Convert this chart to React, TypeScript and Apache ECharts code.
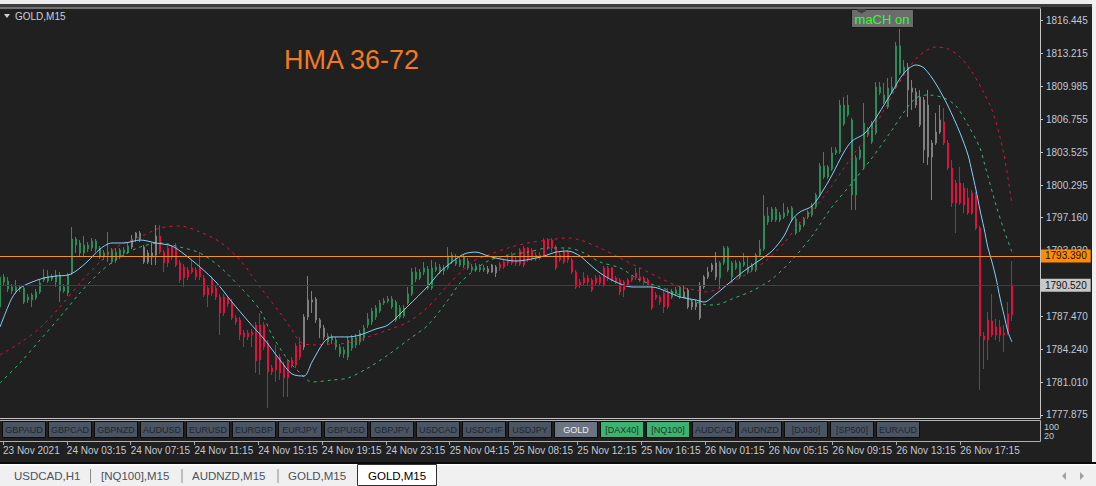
import React, { useEffect, useRef } from "react";
import * as echarts from "echarts";

// ---------- data ----------
const timeLabels = [
  "23 Nov 2021", "24 Nov 03:15", "24 Nov 07:15", "24 Nov 11:15", "24 Nov 15:15",
  "24 Nov 19:15", "24 Nov 23:15", "25 Nov 04:15", "25 Nov 08:15", "25 Nov 12:15",
  "25 Nov 16:15", "26 Nov 01:15", "26 Nov 05:15", "26 Nov 09:15", "26 Nov 13:15",
  "26 Nov 17:15",
];
const labelEvery = 16;
const slotCount = 261;

const priceTicks = [
  1777.875, 1781.01, 1784.24, 1787.47, 1790.7, 1793.93, 1797.16, 1800.295,
  1803.525, 1806.755, 1809.985, 1813.215, 1816.445,
];
const priceMin = 1777.56;
const priceMax = 1817.52;

const bidPrice = 1793.39;
const levelPrice = 1790.52;

// [open, close, low, high]
const ohlc: number[][] = [
  [1788.41, 1791.34, 1788.21, 1791.53], [1790.84, 1791.34, 1790.45, 1791.63], [1790.17, 1790.94, 1789.87, 1791.34],
  [1789.97, 1790.36, 1789.68, 1790.65], [1789.97, 1790.36, 1789.68, 1791.04], [1790.17, 1790.36, 1789.87, 1790.55],
  [1788.89, 1790.26, 1788.7, 1790.45], [1789.09, 1789.38, 1788.8, 1789.68], [1789.09, 1789.58, 1788.41, 1789.78],
  [1789.29, 1789.87, 1789.09, 1790.17], [1789.87, 1790.75, 1789.68, 1791.04], [1791.04, 1791.34, 1790.84, 1792.12],
  [1790.94, 1791.43, 1790.75, 1792.02], [1791.14, 1791.34, 1790.94, 1791.63], [1790.84, 1791.53, 1790.36, 1792.02],
  [1789.97, 1791.53, 1788.89, 1791.82], [1789.97, 1790.36, 1789.78, 1790.65], [1789.78, 1791.53, 1789.48, 1791.73],
  [1791.73, 1795.05, 1791.53, 1796.22], [1794.46, 1795.05, 1793.68, 1795.25], [1793.68, 1794.66, 1793.39, 1794.95],
  [1793.68, 1794.46, 1793.29, 1795.34], [1794.07, 1794.46, 1793.77, 1794.75], [1794.17, 1794.85, 1793.87, 1795.15],
  [1794.07, 1794.85, 1793.77, 1795.05], [1793.29, 1794.17, 1793.1, 1794.36], [1793.29, 1793.68, 1793.0, 1793.97],
  [1793.48, 1793.77, 1792.8, 1795.73], [1792.8, 1793.97, 1792.61, 1794.17], [1793.0, 1793.77, 1792.71, 1794.17],
  [1793.29, 1793.97, 1793.1, 1794.17], [1793.68, 1793.97, 1793.39, 1794.26], [1793.77, 1794.36, 1793.58, 1794.66],
  [1795.05, 1794.26, 1794.07, 1795.44], [1795.63, 1795.15, 1794.75, 1795.73], [1795.63, 1795.05, 1794.75, 1795.83],
  [1794.26, 1792.8, 1792.61, 1794.46], [1793.68, 1792.8, 1792.61, 1793.97], [1793.68, 1793.29, 1792.51, 1794.66],
  [1795.34, 1793.48, 1792.51, 1796.42], [1795.34, 1793.77, 1793.58, 1796.42], [1793.77, 1792.71, 1791.82, 1793.97],
  [1794.17, 1792.71, 1792.31, 1794.36], [1794.26, 1793.29, 1793.0, 1794.46], [1794.26, 1792.51, 1792.31, 1794.66],
  [1792.71, 1791.04, 1790.75, 1793.0], [1792.31, 1791.24, 1790.36, 1792.61], [1792.02, 1791.34, 1791.04, 1792.31],
  [1792.22, 1791.82, 1791.63, 1793.0], [1792.02, 1791.34, 1791.04, 1792.31], [1792.22, 1791.34, 1791.04, 1793.77],
  [1791.24, 1789.58, 1789.38, 1791.53], [1790.26, 1789.58, 1788.41, 1790.55], [1791.24, 1789.78, 1789.48, 1791.43],
  [1790.26, 1789.38, 1789.09, 1790.55], [1789.38, 1787.82, 1785.67, 1789.68], [1789.38, 1787.82, 1787.53, 1789.68],
  [1789.29, 1788.7, 1788.41, 1789.48], [1788.89, 1787.33, 1787.14, 1789.19], [1787.33, 1786.94, 1786.65, 1787.63],
  [1787.14, 1785.67, 1785.18, 1787.43], [1785.87, 1785.48, 1784.5, 1786.16], [1785.87, 1785.48, 1785.18, 1786.16],
  [1785.96, 1785.67, 1784.5, 1786.26], [1786.65, 1783.13, 1781.96, 1786.94], [1786.65, 1783.23, 1781.76, 1787.82],
  [1786.65, 1784.5, 1784.21, 1786.94], [1784.89, 1782.06, 1778.54, 1785.18], [1782.45, 1782.06, 1781.76, 1782.74],
  [1783.52, 1782.25, 1781.08, 1784.7], [1783.52, 1781.96, 1781.27, 1783.82], [1782.74, 1781.47, 1779.62, 1783.03],
  [1783.03, 1781.47, 1779.62, 1783.33], [1783.23, 1782.74, 1782.45, 1783.52], [1784.6, 1782.74, 1782.45, 1784.89],
  [1784.7, 1783.52, 1783.23, 1785.48], [1787.43, 1784.5, 1784.21, 1787.72], [1789.09, 1787.43, 1787.14, 1791.43],
  [1789.09, 1788.89, 1787.82, 1789.97], [1789.19, 1787.14, 1786.84, 1789.38], [1787.14, 1786.36, 1785.38, 1787.33],
  [1786.36, 1785.48, 1785.18, 1786.65], [1784.99, 1785.57, 1784.7, 1785.87], [1785.18, 1785.48, 1784.79, 1785.77],
  [1784.5, 1785.18, 1784.21, 1785.48], [1783.82, 1784.5, 1783.52, 1784.79], [1783.82, 1784.21, 1783.42, 1784.5],
  [1783.52, 1785.18, 1783.23, 1785.48], [1784.4, 1785.38, 1784.11, 1785.67], [1784.7, 1785.38, 1784.4, 1785.77],
  [1784.99, 1785.87, 1784.7, 1786.16], [1785.38, 1786.36, 1785.08, 1786.65], [1786.65, 1787.24, 1786.36, 1787.82],
  [1786.94, 1788.02, 1786.65, 1788.31], [1787.43, 1788.31, 1787.14, 1788.6], [1788.02, 1788.8, 1787.82, 1789.09],
  [1788.8, 1788.99, 1788.6, 1789.29], [1788.99, 1789.19, 1788.8, 1789.48], [1788.41, 1789.19, 1788.21, 1789.48],
  [1787.14, 1788.89, 1786.94, 1789.09], [1787.43, 1788.31, 1787.24, 1788.6], [1787.53, 1788.31, 1787.33, 1788.6],
  [1788.8, 1789.68, 1788.6, 1790.36], [1789.68, 1791.82, 1789.48, 1792.22], [1791.14, 1791.82, 1790.84, 1792.31],
  [1791.24, 1791.82, 1791.04, 1792.12], [1791.82, 1792.22, 1791.53, 1792.8], [1790.26, 1792.12, 1790.07, 1792.41],
  [1790.26, 1792.22, 1790.07, 1793.0], [1792.02, 1792.31, 1791.82, 1792.8], [1791.82, 1792.31, 1791.63, 1792.61],
  [1791.92, 1792.22, 1791.53, 1792.51], [1792.22, 1793.39, 1792.02, 1794.26], [1792.8, 1793.48, 1792.61, 1793.77],
  [1792.61, 1793.0, 1792.41, 1793.58], [1792.51, 1793.0, 1792.31, 1793.29], [1792.51, 1793.29, 1792.22, 1793.48],
  [1792.22, 1792.9, 1792.02, 1793.19], [1792.02, 1792.31, 1791.82, 1792.61], [1792.02, 1792.41, 1791.82, 1792.71],
  [1792.02, 1792.31, 1791.82, 1792.61], [1792.02, 1792.22, 1791.82, 1792.51], [1792.12, 1791.82, 1791.63, 1792.41],
  [1792.51, 1791.82, 1791.73, 1792.61], [1792.31, 1791.73, 1791.34, 1792.51], [1792.61, 1792.22, 1791.92, 1792.8],
  [1792.8, 1792.31, 1792.12, 1793.1], [1793.0, 1792.71, 1792.41, 1793.29], [1793.48, 1792.71, 1792.51, 1793.77],
  [1793.0, 1792.71, 1792.41, 1793.29], [1793.97, 1792.61, 1792.41, 1794.17], [1794.17, 1792.51, 1792.31, 1794.36],
  [1794.17, 1793.0, 1792.8, 1794.26], [1793.97, 1793.19, 1792.9, 1794.17], [1793.48, 1793.19, 1792.9, 1793.77],
  [1793.48, 1793.19, 1793.0, 1793.77], [1794.95, 1793.48, 1793.29, 1795.15], [1794.95, 1794.26, 1793.97, 1795.15],
  [1794.95, 1794.17, 1793.77, 1795.15], [1794.26, 1792.22, 1792.02, 1794.46], [1793.48, 1793.0, 1792.8, 1793.77],
  [1793.77, 1792.8, 1792.61, 1794.07], [1793.77, 1793.0, 1792.71, 1793.97], [1793.0, 1791.82, 1791.63, 1793.19],
  [1791.82, 1790.36, 1790.17, 1792.02], [1790.84, 1790.55, 1790.26, 1791.14], [1791.24, 1790.75, 1790.55, 1791.82],
  [1791.24, 1790.84, 1790.55, 1791.53], [1791.04, 1790.07, 1789.87, 1791.24], [1791.24, 1790.75, 1790.55, 1791.53],
  [1791.34, 1790.75, 1790.45, 1791.53], [1792.22, 1790.55, 1790.36, 1792.41], [1792.22, 1791.24, 1790.94, 1792.41],
  [1792.22, 1791.04, 1790.84, 1792.31], [1791.24, 1790.84, 1790.65, 1791.43], [1791.04, 1789.87, 1789.58, 1791.24],
  [1790.84, 1790.07, 1789.38, 1791.04], [1791.04, 1790.55, 1790.36, 1791.24], [1791.34, 1791.04, 1790.84, 1791.53],
  [1791.73, 1791.24, 1791.04, 1792.22], [1791.34, 1791.04, 1790.84, 1792.22], [1791.24, 1790.84, 1790.55, 1791.43],
  [1791.04, 1790.55, 1790.36, 1791.24], [1790.36, 1788.31, 1788.11, 1790.55], [1789.58, 1789.29, 1789.09, 1789.87],
  [1789.38, 1788.89, 1788.6, 1789.58], [1789.78, 1788.41, 1787.82, 1790.07], [1789.87, 1788.41, 1788.21, 1790.26],
  [1789.38, 1789.87, 1789.19, 1790.17], [1789.68, 1790.07, 1789.48, 1790.36], [1789.38, 1790.36, 1789.19, 1790.55],
  [1789.87, 1789.38, 1789.29, 1790.55], [1790.07, 1788.41, 1788.21, 1790.26], [1788.89, 1788.41, 1788.11, 1789.09],
  [1788.8, 1788.41, 1788.11, 1789.09], [1790.55, 1787.33, 1787.14, 1790.84], [1791.34, 1790.36, 1790.17, 1791.53],
  [1791.82, 1791.34, 1791.14, 1792.31], [1792.51, 1792.02, 1791.82, 1792.71], [1792.71, 1791.34, 1791.04, 1793.77],
  [1791.24, 1792.71, 1790.26, 1792.9], [1792.71, 1794.17, 1792.51, 1794.36], [1792.02, 1794.17, 1791.82, 1794.36],
  [1791.34, 1792.71, 1790.84, 1792.9], [1792.22, 1792.71, 1792.02, 1793.0], [1791.34, 1792.71, 1791.14, 1792.9],
  [1792.51, 1792.8, 1792.31, 1793.68], [1791.82, 1792.31, 1791.63, 1793.29], [1792.02, 1792.51, 1791.82, 1792.71],
  [1792.02, 1793.48, 1791.82, 1793.68], [1793.48, 1794.07, 1793.29, 1794.95], [1794.07, 1797.3, 1793.87, 1799.35],
  [1796.71, 1797.3, 1796.42, 1798.18], [1796.91, 1797.98, 1796.71, 1798.18], [1796.91, 1797.98, 1796.71, 1798.18],
  [1796.91, 1797.4, 1796.71, 1797.69], [1797.2, 1797.59, 1797.0, 1798.57], [1797.59, 1797.88, 1797.3, 1798.18],
  [1796.91, 1798.08, 1796.71, 1798.27], [1795.63, 1797.0, 1795.44, 1797.2], [1795.93, 1796.42, 1795.73, 1796.71],
  [1796.42, 1797.0, 1796.22, 1797.2], [1797.2, 1797.69, 1797.0, 1797.88], [1797.4, 1798.37, 1797.2, 1798.57],
  [1798.18, 1799.35, 1797.98, 1799.55], [1799.35, 1802.18, 1799.16, 1802.48], [1801.11, 1802.18, 1800.91, 1803.55],
  [1801.11, 1802.09, 1800.91, 1802.28], [1801.89, 1803.45, 1801.7, 1804.04], [1803.45, 1803.75, 1803.26, 1804.04],
  [1803.55, 1808.14, 1803.36, 1808.63], [1806.29, 1808.14, 1806.09, 1808.92], [1807.16, 1808.14, 1806.97, 1809.12],
  [1799.35, 1806.68, 1797.88, 1806.87], [1799.35, 1802.97, 1797.88, 1803.26], [1802.97, 1803.75, 1802.77, 1804.04],
  [1802.09, 1806.38, 1801.89, 1808.34], [1805.21, 1805.7, 1805.01, 1805.99], [1804.53, 1806.38, 1804.33, 1806.58],
  [1805.41, 1809.9, 1805.21, 1810.39], [1809.31, 1809.9, 1809.12, 1810.39], [1808.43, 1809.12, 1808.24, 1810.29],
  [1807.95, 1809.8, 1807.75, 1810.78], [1809.41, 1809.9, 1809.22, 1810.88], [1809.9, 1813.91, 1809.7, 1814.3],
  [1811.27, 1813.91, 1811.07, 1815.57], [1811.27, 1811.85, 1811.07, 1812.54], [1811.85, 1809.61, 1806.97, 1812.25],
  [1809.8, 1809.41, 1807.65, 1810.58], [1809.41, 1808.14, 1807.85, 1809.8], [1808.92, 1806.19, 1805.99, 1809.61],
  [1808.63, 1803.75, 1802.48, 1808.92], [1808.14, 1803.06, 1802.28, 1809.61], [1804.43, 1803.06, 1798.86, 1804.72],
  [1805.5, 1804.43, 1804.23, 1807.36], [1806.68, 1805.5, 1805.31, 1808.14], [1806.48, 1804.43, 1804.23, 1807.85],
  [1804.43, 1801.99, 1801.79, 1804.72], [1801.99, 1798.57, 1798.18, 1802.77], [1800.52, 1798.57, 1795.63, 1800.81],
  [1800.52, 1798.57, 1798.37, 1802.09], [1800.03, 1798.37, 1797.59, 1800.52], [1799.06, 1797.59, 1797.4, 1800.03],
  [1799.55, 1797.59, 1797.4, 1799.84], [1799.35, 1796.12, 1795.93, 1799.64], [1796.12, 1785.57, 1780.3, 1796.32],
  [1785.57, 1785.18, 1782.35, 1785.96], [1787.14, 1785.18, 1783.23, 1787.92], [1787.04, 1785.67, 1785.48, 1789.68],
  [1786.45, 1785.67, 1785.18, 1787.24], [1786.45, 1785.67, 1784.99, 1787.14], [1785.87, 1785.67, 1784.01, 1786.65],
  [1787.72, 1785.87, 1785.67, 1788.89], [1790.55, 1787.63, 1787.04, 1792.9],
];

// candle colouring state: g = up trend, r = down trend, n = neutral
const trendRuns: [string, number][] = [
  ["g", 33], ["n", 7], ["r", 36], ["n", 6], ["g", 40], ["n", 3],
  ["r", 43], ["g", 3], ["n", 9], ["g", 47], ["n", 9], ["r", 18],
];

// [bar index, price]
const hmaFast: number[][] = [
  [0, 1786.45], [3, 1789.29], [5, 1790.26], [8, 1790.84], [11, 1791.24], [14, 1791.43], [17, 1791.53],
  [19, 1791.92], [22, 1792.9], [25, 1794.07], [28, 1794.66], [31, 1794.66], [35, 1794.95], [39, 1794.66],
  [43, 1794.36], [46, 1793.58], [50, 1792.31], [54, 1790.84], [58, 1788.89], [62, 1787.04], [66, 1785.28],
  [70, 1783.23], [73, 1781.86], [76, 1781.66], [78, 1783.03], [81, 1784.99], [83, 1785.48], [87, 1785.48],
  [90, 1785.67], [94, 1786.26], [97, 1786.65], [102, 1788.5], [107, 1790.45], [110, 1791.82], [113, 1792.8],
  [116, 1793.58], [119, 1793.77], [122, 1793.39], [125, 1793.1], [129, 1792.9], [133, 1793.1], [136, 1793.39],
  [139, 1793.77], [142, 1793.87], [145, 1793.39], [147, 1792.71], [150, 1791.73], [154, 1790.84], [158, 1790.36],
  [163, 1790.36], [167, 1789.87], [170, 1789.38], [174, 1789.09], [176, 1788.89], [179, 1789.68], [182, 1790.65],
  [186, 1791.92], [190, 1793.0], [193, 1793.87], [196, 1795.34], [198, 1796.91], [200, 1797.69], [203, 1798.27],
  [206, 1799.94], [208, 1801.3], [211, 1803.55], [213, 1804.62], [216, 1805.31], [218, 1806.29], [221, 1808.14],
  [223, 1809.41], [226, 1811.27], [229, 1812.05], [231, 1811.76], [234, 1810.19], [237, 1808.04], [240, 1805.41],
  [242, 1803.26], [243, 1801.6], [244, 1799.84], [245, 1797.88], [246, 1796.12], [247, 1794.17], [248, 1792.8],
  [249, 1791.24], [250, 1789.29], [251, 1787.63], [252, 1785.96], [253, 1784.99],
];

const hmaUpper: number[][] = [
  [0, 1783.72], [5, 1784.89], [10, 1786.36], [15, 1788.41], [20, 1790.75], [25, 1792.8], [30, 1794.46],
  [35, 1795.25], [40, 1796.12], [45, 1796.32], [50, 1795.73], [55, 1794.75], [60, 1793.0], [65, 1790.36],
  [70, 1787.82], [73, 1786.16], [75, 1784.99], [78, 1784.7], [83, 1784.79], [87, 1784.89], [92, 1785.48],
  [97, 1786.16], [102, 1786.94], [107, 1788.41], [112, 1790.55], [118, 1792.8], [122, 1793.48], [127, 1794.17],
  [132, 1794.66], [137, 1794.95], [142, 1795.15], [145, 1794.95], [150, 1794.17], [155, 1793.19], [160, 1792.22],
  [165, 1791.24], [170, 1790.36], [174, 1790.07], [176, 1789.87], [179, 1790.07], [183, 1790.84], [188, 1791.92],
  [192, 1793.1], [196, 1794.66], [200, 1796.61], [203, 1797.79], [207, 1799.74], [211, 1801.99], [214, 1803.65],
  [218, 1805.7], [221, 1807.65], [224, 1809.8], [227, 1811.66], [230, 1813.03], [234, 1813.81], [237, 1813.62],
  [240, 1812.84], [243, 1811.37], [246, 1809.31], [248, 1807.65], [250, 1805.01], [251, 1803.26], [252, 1801.01],
  [253, 1798.37],
];

const hmaLower: number[][] = [
  [0, 1780.98], [5, 1782.94], [10, 1785.18], [15, 1787.43], [20, 1789.78], [25, 1791.82], [30, 1793.29],
  [35, 1794.26], [40, 1794.66], [45, 1794.26], [50, 1793.68], [55, 1792.31], [60, 1790.36], [65, 1788.11],
  [68, 1785.67], [72, 1783.23], [75, 1781.96], [78, 1781.08], [83, 1781.27], [87, 1781.47], [92, 1782.45],
  [97, 1783.72], [102, 1785.18], [107, 1786.65], [112, 1789.09], [115, 1790.75], [118, 1791.82], [122, 1792.9],
  [127, 1793.48], [132, 1793.77], [137, 1794.17], [142, 1794.17], [146, 1793.68], [150, 1792.8], [155, 1792.22],
  [160, 1791.04], [165, 1790.36], [170, 1789.58], [174, 1788.89], [177, 1788.6], [180, 1788.7], [183, 1789.19],
  [188, 1789.97], [193, 1791.14], [198, 1793.0], [203, 1795.34], [208, 1798.18], [213, 1800.52], [218, 1802.97],
  [223, 1805.7], [226, 1807.46], [229, 1808.83], [232, 1809.12], [236, 1808.83], [239, 1808.04], [242, 1806.19],
  [245, 1803.94], [246, 1802.57], [249, 1798.37], [251, 1795.93], [253, 1793.77],
];

const symbolButtons = [
  "GBPAUD", "GBPCAD", "GBPNZD", "AUDUSD", "EURUSD", "EURGBP", "EURJPY", "GBPUSD", "GBPJPY", "USDCAD",
  "USDCHF", "USDJPY", "GOLD", "[DAX40]", "[NQ100]", "AUDCAD", "AUDNZD", "[DJI30]", "[SP500]", "EURAUD",
];
const selectedButton = "GOLD";
const greenButtons = ["[DAX40]", "[NQ100]"];
const subWindowLevels = ["100", "20"];

const tabs = ["USDCAD,H1", "[NQ100],M15", "AUDNZD,M15", "GOLD,M15"];
const activeTab = "GOLD,M15";

const chartTitle = "GOLD,M15";
const indicatorTitle = "HMA 36-72";
const toggleLabel = "maCH on";

// ---------- styling ----------
const BG = "#202020";
const AXIS_TXT = "#c0c8d4";
const FRAME = "#c4c4c4";
const AXIS_FONT = "'Liberation Sans', Arial, sans-serif";
const UI_FONT = "'Liberation Sans', Arial, sans-serif";
const trendColor: Record<string, string> = { g: "#2e8b57", r: "#dc143c", n: "#808080" };

export default function App() {
  const ref = useRef<HTMLDivElement>(null);

  useEffect(() => {
    if (!ref.current) return;
    const chart = echarts.init(ref.current, undefined, { renderer: "svg" });

    const trend: string[] = [];
    trendRuns.forEach(([c, n]) => {
      for (let i = 0; i < n; i++) trend.push(c);
    });
    const candleData = ohlc.map((v, i) => {
      const c = trendColor[trend[i]] || "#808080";
      return { value: v, itemStyle: { color: c, color0: c, borderColor: c, borderColor0: c } };
    });
    const categories = Array.from({ length: slotCount }, (_, i) => String(i));
    const showLabel = (index: number) => index % labelEvery === 0 && index / labelEvery < timeLabels.length;

    const txt = (x: number, y: number, text: string, fill: string, font: string, align: string, z = 101) => ({
      type: "text", z, x, y,
      style: { text, fill, font, align, verticalAlign: "middle", textAlign: align, textVerticalAlign: "middle" },
    });

    const elements: any[] = [];
    // window chrome at top
    elements.push({ type: "rect", z: 100, shape: { x: 0, y: 0, width: 1096, height: 4 }, style: { fill: "#ececec" } });
    elements.push({ type: "rect", z: 100, shape: { x: 0, y: 4, width: 1096, height: 3 }, style: { fill: "#3c3c3c" } });
    elements.push({ type: "line", z: 100, shape: { x1: 0, y1: 8, x2: 1040.5, y2: 8 }, style: { stroke: FRAME, lineWidth: 1 } });
    // main window bottom frame
    elements.push({ type: "line", z: 100, shape: { x1: 0, y1: 418.5, x2: 1040.5, y2: 418.5 }, style: { stroke: FRAME, lineWidth: 1 } });
    // sub window frame
    elements.push({ type: "rect", z: 100, shape: { x: -1, y: 420.5, width: 1041.5, height: 21 }, style: { fill: "none", stroke: "#b0b0b0", lineWidth: 1 } });
    // buttons
    symbolButtons.forEach((name, i) => {
      const x = 2 + 46 * i;
      const sel = name === selectedButton;
      const green = greenButtons.indexOf(name) >= 0;
      const fill = sel ? "#6a7482" : green ? "#3cb371" : "#4a5462";
      const tc = sel ? "#eeeeee" : green ? "#1c3a28" : "#1e2630";
      elements.push({ type: "rect", z: 101, shape: { x: x + 0.5, y: 421.5, width: 43, height: 16 }, style: { fill, stroke: "#0c0c0c", lineWidth: 1 } });
      elements.push(txt(x + 22, 430, name, tc, `9px ${UI_FONT}`, "center", 102));
    });
    subWindowLevels.forEach((t, i) => {
      elements.push(txt(1044, 427 + i * 8.5, t, AXIS_TXT, `9px ${AXIS_FONT}`, "left"));
    });
    // title
    elements.push({ type: "polygon", z: 101, shape: { points: [[4, 14], [10, 14], [7, 18]] }, style: { fill: "#d0d0d0" } });
    elements.push(txt(15, 16.5, chartTitle, "#c8d0dc", `10px ${AXIS_FONT}`, "left"));
    elements.push(txt(284, 60, indicatorTitle, "#f07b22", `27px ${UI_FONT}`, "left"));
    // maCH on toggle
    elements.push({ type: "rect", z: 101, shape: { x: 851.5, y: 9.5, width: 62, height: 18 }, style: { fill: "#6c6c6c", stroke: "#1a1a1a", lineWidth: 1 } });
    elements.push({ type: "polygon", z: 102, shape: { points: [[857, 9], [866, 9], [866, 11], [861.5, 13.5], [857, 11]] }, style: { fill: "#3e3e3e" } });
    elements.push(txt(882, 19, toggleLabel, "#2cff2c", `13px ${UI_FONT}`, "center", 102));
    // bottom tab bar
    elements.push({ type: "rect", z: 100, shape: { x: 0, y: 462, width: 1096, height: 2 }, style: { fill: "#0a0a0a" } });
    elements.push({ type: "rect", z: 100, shape: { x: 0, y: 464, width: 1096, height: 22 }, style: { fill: "#f0f0f0" } });
    elements.push({ type: "rect", z: 100, shape: { x: 0, y: 464, width: 1096, height: 1.5 }, style: { fill: "#ffffff" } });
    // right scrollbar strip
    elements.push({ type: "rect", z: 100, shape: { x: 1092, y: 0, width: 4, height: 462 }, style: { fill: "#f0f0f0" } });
    const tabX = [14, 101, 192, 288];
    const sepX = [90.5, 182, 278];
    tabs.forEach((t, i) => {
      elements.push(txt(tabX[i], 476, t, "#4a525c", `11.5px ${UI_FONT}`, "left"));
    });
    sepX.forEach((x) => {
      elements.push({ type: "line", z: 101, shape: { x1: x, y1: 469, x2: x, y2: 483 }, style: { stroke: "#8a8a8a", lineWidth: 1 } });
    });
    elements.push({ type: "rect", z: 101, shape: { x: 357.5, y: 464.5, width: 79, height: 21 }, style: { fill: "#ffffff", stroke: "#333333", lineWidth: 1 } });
    elements.push(txt(368, 476, activeTab, "#000000", `11.5px ${UI_FONT}`, "left", 102));
    elements.push({ type: "polygon", z: 101, shape: { points: [[1066, 472], [1066, 480], [1062, 476]] }, style: { fill: "#a0a0a0" } });
    elements.push({ type: "polygon", z: 101, shape: { points: [[1080, 472], [1080, 480], [1084, 476]] }, style: { fill: "#a0a0a0" } });

    const option: any = {
      animation: false,
      backgroundColor: BG,
      grid: [
        { left: 0, top: 9, width: 1040, height: 409, show: false },
        { left: 0, top: 420, width: 1040, height: 21, show: false },
      ],
      xAxis: [
        {
          type: "category", gridIndex: 0, data: categories, boundaryGap: false,
          axisLine: { show: false }, axisTick: { show: false }, axisLabel: { show: false }, splitLine: { show: false },
        },
        {
          type: "category", gridIndex: 1, data: categories, boundaryGap: false, position: "bottom",
          axisLine: { show: false },
          axisTick: { show: true, interval: showLabel, length: 4, lineStyle: { color: "#a8a8a8" } },
          axisLabel: {
            show: true, interval: showLabel, align: "left", margin: 4,
            showMinLabel: true, showMaxLabel: true, hideOverlap: false,
            color: AXIS_TXT, fontSize: 10, fontFamily: AXIS_FONT,
            formatter: (_v: string, i: number) => timeLabels[i / labelEvery] || "",
          },
          splitLine: { show: false },
        },
      ],
      yAxis: [
        {
          type: "value", gridIndex: 0, position: "right", min: priceMin, max: priceMax,
          splitLine: { show: false },
          axisLine: { show: true, lineStyle: { color: FRAME } },
          axisTick: { show: true, length: 3, customValues: priceTicks, lineStyle: { color: FRAME } },
          axisLabel: {
            customValues: priceTicks, margin: 6, color: AXIS_TXT, fontSize: 10, fontFamily: AXIS_FONT,
            formatter: (v: number) => v.toFixed(3),
          },
        },
        { type: "value", gridIndex: 1, show: false },
      ],
      series: [
        {
          type: "candlestick", xAxisIndex: 0, yAxisIndex: 0, data: candleData, barWidth: 2, silent: true,
        },
        {
          type: "line", xAxisIndex: 0, yAxisIndex: 0, data: hmaUpper, showSymbol: false, smooth: 0.3, silent: true,
          lineStyle: { color: "#dc143c", width: 1, type: [3, 4] },
        },
        {
          type: "line", xAxisIndex: 0, yAxisIndex: 0, data: hmaLower, showSymbol: false, smooth: 0.3, silent: true,
          lineStyle: { color: "#3cb371", width: 1, type: [3, 4] },
        },
        {
          type: "line", xAxisIndex: 0, yAxisIndex: 0, data: hmaFast, showSymbol: false, smooth: 0.3, silent: true,
          lineStyle: { color: "#87cefa", width: 1 },
        },
        {
          type: "line", xAxisIndex: 0, yAxisIndex: 0, data: [], silent: true, clip: false,
          markLine: {
            silent: true, symbol: ["none", "none"], animation: false,
            data: [
              {
                yAxis: levelPrice, lineStyle: { color: "#3c4242", width: 1, type: "solid" },
                label: { show: true, position: "end", distance: 1, formatter: () => levelPrice.toFixed(3), backgroundColor: "#c8c8c8", color: "#111", padding: [2, 4, 1, 4], fontSize: 10, fontFamily: AXIS_FONT },
              },
              {
                yAxis: bidPrice, lineStyle: { color: "#f0922c", width: 1, type: "solid" },
                label: { show: true, position: "end", distance: 1, formatter: () => bidPrice.toFixed(3), backgroundColor: "#ff8c00", color: "#111", padding: [2, 4, 1, 4], fontSize: 10, fontFamily: AXIS_FONT },
              },
            ],
          },
        },
      ],
      graphic: { elements },
    };

    chart.setOption(option);
    return () => chart.dispose();
  }, []);

  return (
    <div
      ref={ref}
      style={{ position: "fixed", left: 0, top: 0, width: 1096, height: 486, background: BG }}
    />
  );
}
